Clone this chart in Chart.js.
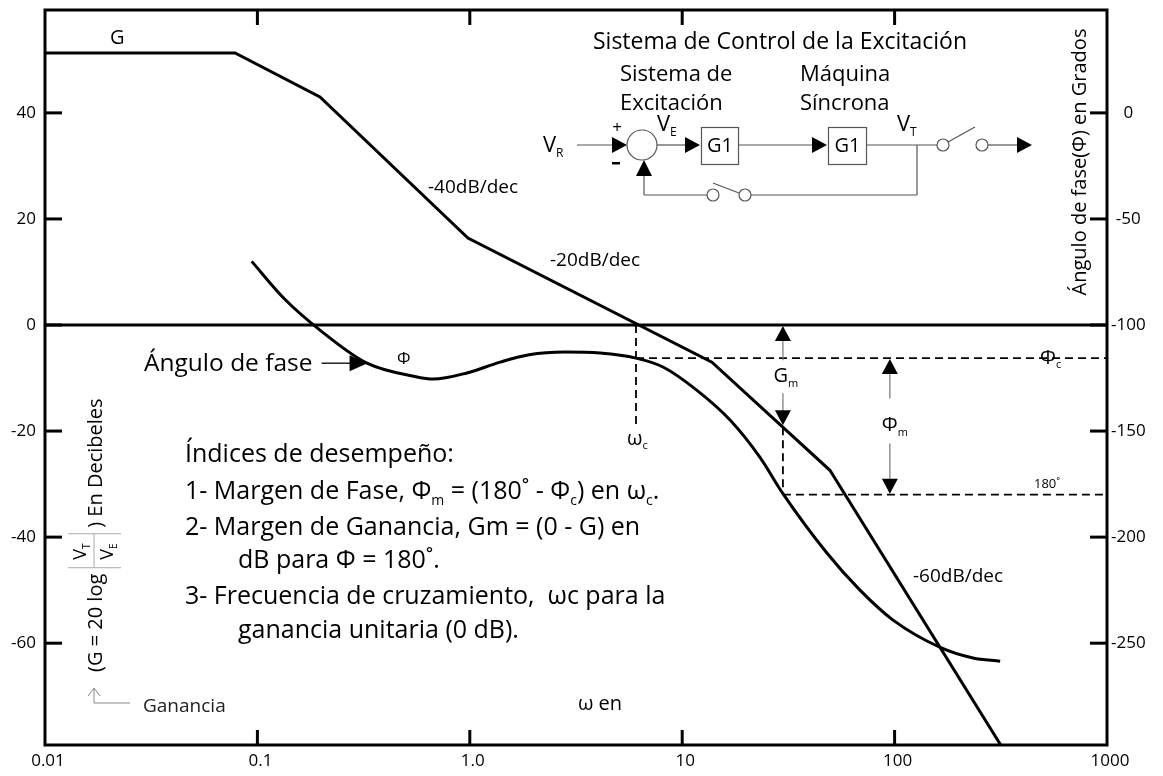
<!DOCTYPE html>
<html>
<head>
<meta charset="utf-8">
<script src="https://cdn.jsdelivr.net/npm/chart.js@4.4.1/dist/chart.umd.min.js"></script>
<style>
  html, body { margin: 0; padding: 0; background: #fff; }
  #wrap { width: 1163px; height: 776px; position: relative; }
</style>
</head>
<body>
<div id="wrap"><canvas id="bode"></canvas></div>
<script>
// ---- axis ticks ----
const FREQ_TICKS = [0.01, 0.1, 1, 10, 100, 1000];
const FREQ_LABELS = ['0.01', '0.1', '1.0', '10', '100', '1000'];
const GAIN_TICKS = [40, 20, 0, -20, -40, -60];
const PHASE_TICKS = [0, -50, -100, -150, -200, -250];
const GAIN_RANGE = [-79.2, 59.4];     // dB, left axis
const PHASE_RANGE = [-298, 48.5];     // degrees, right axis

// ---- asymptotic gain G (dB) ----
const gainFreq = [0.01, 0.0785, 0.197, 0.98, 13.8, 49.6, 316];
const gainDb   = [51.3, 51.3, 43.0, 16.4, -7.0, -27.4, -79.2];

// ---- phase angle (degrees) ----
const phaseFreq = [0.094, 0.135, 0.197, 0.328, 0.564, 0.671, 0.97, 1.39, 1.9, 2.8, 4.1, 6.06, 8.12, 11.7, 16.8, 23.2, 29.8, 48, 68.7, 98, 164, 234, 314];
const phaseDeg  = [-70, -88, -102.4, -118, -124.5, -125.5, -122.6, -117.5, -114, -112.7, -113.2, -115.6, -119.8, -130.7, -144.8, -162.3, -179.5, -207.5, -225, -239, -252, -257, -258.5];

// ---- performance markers ----
const OMEGA_C = 6.06;        // crossover frequency (0 dB)
const PHI_C = -115.6;        // phase at crossover
const OMEGA_180 = 29.8;      // frequency where phase = -180
const PHI_180 = -180;
const GAIN_AT_180 = -19.3;   // gain at OMEGA_180
const OMEGA_PM = 95;         // where the phase-margin arrow is drawn

const FONT = '"Open Sans", "Noto Sans", "DejaVu Sans", sans-serif';
Chart.defaults.font.family = FONT;
Chart.defaults.color = '#000';

function seg(ctx, x1, y1, x2, y2) {
  ctx.beginPath(); ctx.moveTo(x1, y1); ctx.lineTo(x2, y2); ctx.stroke();
}
function head(ctx, tx, ty, dir, len, half) {
  ctx.beginPath();
  ctx.moveTo(tx, ty);
  if (dir === 'right') { ctx.lineTo(tx - len, ty - half); ctx.lineTo(tx - len, ty + half); }
  else if (dir === 'up') { ctx.lineTo(tx - half, ty + len); ctx.lineTo(tx + half, ty + len); }
  else { ctx.lineTo(tx - half, ty - len); ctx.lineTo(tx + half, ty - len); }
  ctx.closePath(); ctx.fill();
}
function circle(ctx, cx, cy, r) {
  ctx.beginPath(); ctx.arc(cx, cy, r, 0, Math.PI * 2); ctx.stroke();
}
// text runs with subscripts: parts = [[text, isSub], ...]
function runWidth(ctx, parts, size) {
  let w = 0;
  parts.forEach(([s, sub]) => {
    ctx.font = (sub ? Math.round(size * 0.55) : size) + 'px ' + FONT;
    w += ctx.measureText(s).width;
  });
  return w;
}
function run(ctx, x, y, parts, size, align) {
  let cx = x;
  if (align === 'center') cx = x - runWidth(ctx, parts, size) / 2;
  ctx.textAlign = 'left';
  ctx.textBaseline = 'middle';
  parts.forEach(([s, sub]) => {
    const fs = sub ? Math.round(size * 0.55) : size;
    ctx.font = fs + 'px ' + FONT;
    ctx.fillText(s, cx, sub ? y + size * 0.36 : y);
    cx += ctx.measureText(s).width;
  });
}

function drawBlockDiagram(ctx) {
  ctx.save();
  ctx.fillStyle = '#000';
  ctx.textBaseline = 'middle';
  ctx.font = '23px ' + FONT;
  ctx.textAlign = 'center';
  ctx.fillText('Sistema de Control de la Excitación', 780, 42);
  ctx.textAlign = 'left';
  ctx.font = '22px ' + FONT;
  ctx.fillText('Sistema de', 620, 75);
  ctx.fillText('Excitación', 620, 104);
  ctx.fillText('Máquina', 800, 75);
  ctx.fillText('Síncrona', 800, 104);

  run(ctx, 543, 146, [['V', 0], ['R', 1]], 22);
  run(ctx, 657, 125, [['V', 0], ['E', 1]], 22);
  run(ctx, 897, 125, [['V', 0], ['T', 1]], 22);
  ctx.font = '17px ' + FONT; ctx.textAlign = 'center';
  ctx.fillText('+', 617, 128);
  ctx.fillRect(612, 162, 8, 2.5);

  ctx.strokeStyle = '#555'; ctx.lineWidth = 1.2;
  seg(ctx, 577, 145, 613, 145); head(ctx, 627, 145, 'right', 15, 8);
  circle(ctx, 642, 145, 15);
  seg(ctx, 657, 145, 686, 145); head(ctx, 700, 145, 'right', 15, 8);
  ctx.strokeRect(701.5, 127.5, 37, 37);
  seg(ctx, 738, 145, 813, 145); head(ctx, 827, 145, 'right', 15, 8);
  ctx.strokeRect(828.5, 127.5, 38, 37);
  ctx.font = '20px ' + FONT; ctx.textAlign = 'center';
  ctx.fillText('G1', 720, 146);
  ctx.fillText('G1', 847.5, 146);
  seg(ctx, 866, 145, 937, 145);
  circle(ctx, 943, 145, 6);
  seg(ctx, 948, 142, 975, 127);
  circle(ctx, 982, 145, 6);
  seg(ctx, 988, 145, 1018, 145); head(ctx, 1032, 145, 'right', 15, 8);
  // feedback path
  seg(ctx, 917, 145, 917, 195);
  seg(ctx, 917, 195, 751, 195);
  circle(ctx, 745, 195, 6);
  seg(ctx, 713, 183, 739, 193);
  circle(ctx, 713, 195, 6);
  seg(ctx, 707, 195, 644, 195);
  seg(ctx, 644, 195, 644, 176);
  head(ctx, 644, 160, 'up', 16, 8);
  ctx.restore();
}

const bodeDecor = {
  id: 'bodeDecor',
  afterDraw(chart) {
    const { ctx, chartArea: a } = chart;
    const x = chart.scales.x, y = chart.scales.y, y2 = chart.scales.y2;
    ctx.save();
    ctx.strokeStyle = '#000';
    ctx.fillStyle = '#000';
    ctx.lineWidth = 3;
    ctx.lineCap = 'butt';

    // frame and 0 dB line
    ctx.strokeRect(a.left, a.top, a.right - a.left, a.bottom - a.top);
    const y0 = y.getPixelForValue(0);
    seg(ctx, a.left, y0, a.right, y0);

    // inward tick marks
    FREQ_TICKS.slice(1, -1).forEach(v => {
      const px = x.getPixelForValue(v);
      seg(ctx, px, a.bottom, px, a.bottom - 15);
      seg(ctx, px, a.top, px, a.top + 15);
    });
    GAIN_TICKS.forEach(v => {
      const py = y.getPixelForValue(v);
      seg(ctx, a.left, py, a.left + 17, py);
    });
    PHASE_TICKS.forEach(v => {
      const py = y2.getPixelForValue(v);
      seg(ctx, a.right - 17, py, a.right, py);
    });

    // dashed construction lines
    const xc = x.getPixelForValue(OMEGA_C);
    const yPhiC = y2.getPixelForValue(PHI_C);
    const x180 = x.getPixelForValue(OMEGA_180);
    const y180 = y2.getPixelForValue(PHI_180);
    const yG180 = y.getPixelForValue(GAIN_AT_180);
    ctx.lineWidth = 1.8;
    ctx.setLineDash([8, 5]);
    seg(ctx, xc, y0, xc, y0 + 100);
    seg(ctx, xc, yPhiC, a.right, yPhiC);
    seg(ctx, x180, yG180, x180, y180);
    seg(ctx, x180, y180, a.right, y180);
    ctx.setLineDash([]);

    // gain margin arrow
    ctx.strokeStyle = '#777'; ctx.lineWidth = 1.2;
    const yGm = (y0 + yG180) / 2;
    seg(ctx, x180, y0 + 14, x180, yGm - 16);
    seg(ctx, x180, yGm + 17, x180, yG180 - 14);
    head(ctx, x180, y0 + 1, 'up', 15, 8);
    head(ctx, x180, yG180 - 2, 'down', 15, 8);
    ctx.fillStyle = '#000';
    run(ctx, x180 + 3, yGm, [['G', 0], ['m', 1]], 20, 'center');

    // phase margin arrow
    const xpm = x.getPixelForValue(OMEGA_PM);
    const yPm = (yPhiC + y180) / 2;
    seg(ctx, xpm, yPhiC + 14, xpm, yPm - 28);
    seg(ctx, xpm, yPm + 17, xpm, y180 - 14);
    head(ctx, xpm, yPhiC + 1, 'up', 15, 8);
    head(ctx, xpm, y180 - 1, 'down', 15, 8);
    run(ctx, xpm + 5, yPm - 1, [['Φ', 0], ['m', 1]], 20, 'center');

    // marker labels
    run(ctx, 1040, yPhiC, [['Φ', 0], ['c', 1]], 20);
    ctx.font = '13px ' + FONT; ctx.textAlign = 'left'; ctx.textBaseline = 'middle';
    ctx.fillText('180˚', 1034, y180 - 10);
    run(ctx, xc - 9, y0 + 114, [['ω', 0], ['c', 1]], 20);

    // slope labels and curve names
    ctx.font = '19px ' + FONT; ctx.textAlign = 'left'; ctx.textBaseline = 'middle';
    ctx.fillText('-40dB/dec', 428, 188);
    ctx.fillText('-20dB/dec', 550, 261);
    ctx.fillText('-60dB/dec', 913, 577);
    ctx.font = '20px ' + FONT;
    ctx.fillText('G', 110, 38);
    ctx.font = '17px ' + FONT;
    ctx.fillText('Φ', 397, 359);
    ctx.font = '20px ' + FONT; ctx.textAlign = 'center';
    ctx.fillText('ω en', 600, 704);

    // phase-curve pointer
    const tipX = x.getPixelForValue(0.33), tipY = y2.getPixelForValue(-118);
    ctx.strokeStyle = '#000'; ctx.lineWidth = 1.3;
    seg(ctx, tipX - 46, tipY, tipX - 16, tipY);
    head(ctx, tipX, tipY, 'right', 18, 8);
    ctx.font = '24.5px ' + FONT; ctx.textAlign = 'right';
    ctx.fillText('Ángulo de fase', tipX - 55, tipY + 1);

    // performance indices
    const idx = [
      [185, 455, [['Índices de desempeño:', 0]]],
      [185, 492, [['1- Margen de Fase, Φ', 0], ['m', 1], [' = (180˚ - Φ', 0], ['c', 1], [') en ω', 0], ['c', 1], ['.', 0]]],
      [185, 528, [['2- Margen de Ganancia, Gm = (0 - G) en', 0]]],
      [238, 561, [['dB para Φ = 180˚.', 0]]],
      [185, 597, [['3- Frecuencia de cruzamiento,  ωc para la', 0]]],
      [238, 631, [['ganancia unitaria (0 dB).', 0]]]
    ];
    idx.forEach(([lx, ly, parts]) => run(ctx, lx, ly, parts, 25));

    // left axis title with |VT / VE|
    ctx.save();
    ctx.translate(96, 672);
    ctx.rotate(-Math.PI / 2);
    ctx.textAlign = 'left'; ctx.textBaseline = 'middle';
    ctx.font = '20px ' + FONT;
    const t1 = '(G = 20 log';
    ctx.fillText(t1, 0, 0);
    const fx = ctx.measureText(t1).width + 6, fw = 34;
    ctx.strokeStyle = '#aaa'; ctx.lineWidth = 1;
    seg(ctx, fx, -28, fx, 25);
    seg(ctx, fx + fw, -28, fx + fw, 25);
    seg(ctx, fx, -2, fx + fw, -2);
    run(ctx, fx + 8, -15, [['V', 0], ['T', 1]], 18);
    run(ctx, fx + 8, 12, [['V', 0], ['E', 1]], 18);
    ctx.font = '20px ' + FONT;
    ctx.fillText(') En Decibeles', fx + fw + 6, 0);
    ctx.restore();

    // right axis title
    ctx.save();
    ctx.translate(1080, 162);
    ctx.rotate(-Math.PI / 2);
    ctx.textAlign = 'center'; ctx.textBaseline = 'middle';
    ctx.font = '20px ' + FONT;
    ctx.fillText('Ángulo de fase(Φ) en Grados', 0, 0);
    ctx.restore();

    // gain legend pointer
    ctx.strokeStyle = '#888'; ctx.lineWidth = 1;
    seg(ctx, 94, 688, 94, 703);
    seg(ctx, 94, 703, 130, 703);
    seg(ctx, 88, 696, 94, 688);
    seg(ctx, 100, 696, 94, 688);
    ctx.fillStyle = '#222';
    ctx.font = '19px ' + FONT; ctx.textAlign = 'left'; ctx.textBaseline = 'middle';
    ctx.fillText('Ganancia', 143, 707);

    ctx.restore();
    drawBlockDiagram(ctx);
  }
};

function noPad(s) {
  s.paddingTop = 0; s.paddingBottom = 0; s.paddingLeft = 0; s.paddingRight = 0;
}

new Chart(document.getElementById('bode'), {
  type: 'line',
  data: {
    datasets: [
      {
        label: 'G',
        data: gainFreq.map((f, i) => ({ x: f, y: gainDb[i] })),
        yAxisID: 'y',
        borderColor: '#000',
        borderWidth: 3,
        pointRadius: 0,
        tension: 0,
        fill: false
      },
      {
        label: 'Φ',
        data: phaseFreq.map((f, i) => ({ x: f, y: phaseDeg[i] })),
        yAxisID: 'y2',
        borderColor: '#000',
        borderWidth: 3,
        pointRadius: 0,
        cubicInterpolationMode: 'monotone',
        fill: false
      }
    ]
  },
  options: {
    responsive: true,
    maintainAspectRatio: false,
    animation: false,
    devicePixelRatio: 1,
    layout: { padding: { top: 10, left: 0, right: 0, bottom: 0 } },
    plugins: { legend: { display: false }, tooltip: { enabled: false } },
    scales: {
      x: {
        type: 'logarithmic',
        position: 'bottom',
        min: FREQ_TICKS[0],
        max: FREQ_TICKS[FREQ_TICKS.length - 1],
        grid: { display: false, drawTicks: false },
        border: { display: false },
        afterBuildTicks: s => { s.ticks = FREQ_TICKS.map(v => ({ value: v })); },
        afterFit: s => { s.height = 31; noPad(s); },
        ticks: {
          autoSkip: false, maxRotation: 0, padding: 6, labelOffset: 3,
          font: { size: 17 },
          callback: (v, i) => FREQ_LABELS[i]
        }
      },
      y: {
        position: 'left',
        min: GAIN_RANGE[0], max: GAIN_RANGE[1],
        grid: { display: false, drawTicks: false },
        border: { display: false },
        afterBuildTicks: s => { s.ticks = GAIN_TICKS.map(v => ({ value: v })); },
        afterFit: s => { s.width = 45; noPad(s); },
        ticks: { padding: 9, font: { size: 17 } }
      },
      y2: {
        position: 'right',
        min: PHASE_RANGE[0], max: PHASE_RANGE[1],
        grid: { display: false, drawTicks: false },
        border: { display: false },
        afterBuildTicks: s => { s.ticks = PHASE_TICKS.map(v => ({ value: v })); },
        afterFit: s => { s.width = 56; noPad(s); },
        ticks: { padding: 4, crossAlign: 'center', font: { size: 17 } }
      }
    }
  },
  plugins: [bodeDecor]
});
</script>
</body>
</html>
